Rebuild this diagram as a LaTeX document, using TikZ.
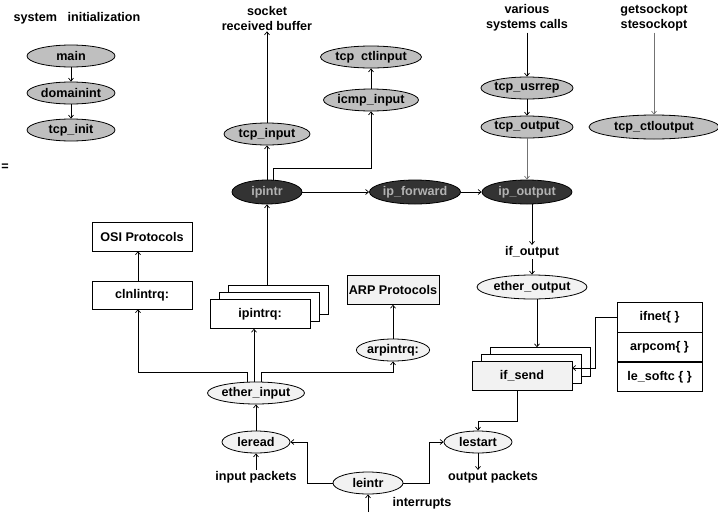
\documentclass[tikz,border=0pt]{standalone}
\usepackage{fontspec}
\setmainfont{Liberation Sans}
\usetikzlibrary{positioning,arrows.meta,shapes.geometric,calc}

\begin{document}
\begin{tikzpicture}[
  x=1pt, y=-1pt,
  every node/.style={font=\fontsize{12.6}{15}\selectfont\bfseries},
  fn/.style={ellipse, draw, line width=0.8pt, inner sep=0pt, minimum height=22pt},
  grayfn/.style={fn, fill=black!25},
  darkfn/.style={fn, fill=black!80, text=black!30, minimum height=24pt},
  lightfn/.style={fn, fill=black!5},
  qblk/.style={rectangle, draw, fill=white, inner sep=0pt,
               minimum width=100pt, minimum height=29pt},
  shadeblk/.style={qblk, fill=black!5},
  ifblk/.style={qblk, minimum width=85pt, minimum height=29.5pt},
  lbl/.style={align=center, inner sep=1pt},
  flowarrow/.style={-{Straight Barb[length=3pt,width=5pt]}, line width=0.7pt},
  greyarrow/.style={flowarrow, black!55}
]
\useasboundingbox (0,0) rectangle (718,512);

% system initialization
\node[lbl]                           (sysinit)  at (77,18)  {system\ \ \ initialization};
\node[grayfn, minimum width=88pt]    (main)     at (71,56)  {main};
\node[grayfn, minimum width=88pt]    (domainint) at (71,93) {domainint};
\node[grayfn, minimum width=88pt]    (tcp_init) at (71,130) {tcp\_init};
\node[lbl]                           (eqmark)   at (5,167)  {=};

% upper protocol layer
\node[lbl]                           (socket)   at (267,18)  {socket\\received buffer};
\node[grayfn, minimum width=86pt]    (tcp_input) at (267,134) {tcp\_input};
\node[grayfn, minimum width=86pt]    (tcp_ctlinput) at (371,57) {tcp\ \ ctlinput};
\node[grayfn, minimum width=86pt]    (icmp_input) at (371,100) {icmp\_input};
\node[lbl]                           (various)  at (527,18)  {various\\systems calls};
\node[grayfn, minimum width=86pt]    (tcp_usrrep) at (527,88) {tcp\_usrrep};
\node[grayfn, minimum width=86pt]    (tcp_output) at (527,127) {tcp\_output};
\node[lbl]                           (getsock)  at (654,18)  {getsockopt\\stesockopt};
\node[grayfn, minimum width=130pt, minimum height=24pt] (tcp_ctloutput) at (654,127) {tcp\_ctloutput};

% ip layer
\node[darkfn, minimum width=70pt]    (ipintr)     at (267,192) {ipintr};
\node[darkfn, minimum width=86pt]    (ip_forward) at (415,192) {ip\_forward};
\node[darkfn, minimum width=90pt]    (ip_output)  at (527,192) {ip\_output};

% queues
\node[qblk]                          (osi)       at (142,236.5) {OSI Protocols};
\node[qblk, minimum height=28pt]     (clnlintrq) at (142,295)  {clnlintrq:};
\node[qblk]                          (ipq3)      at (278,300)  {};
\node[qblk]                          (ipq2)      at (269,307)  {};
\node[qblk]                          (ipintrq)   at (260,314)  {ipintrq:};
\node[shadeblk, minimum width=92pt]  (arp)       at (393,290)  {ARP Protocols};
\node[lightfn, minimum width=70pt]   (arpintrq)  at (393,350)  {arpintrq:};

% output side
\node[lbl]                           (if_output)    at (532,252) {if\_output};
\node[lightfn, minimum width=110pt, minimum height=24pt] (ether_output) at (532,287) {ether\_output};
\node[qblk]                          (sendq3)   at (540,362) {};
\node[qblk]                          (sendq2)   at (531,369) {};
\node[shadeblk]                      (if_send)  at (522,376) {if\_send};
\node[ifblk]                         (ifnet)    at (659.5,317) {ifnet\{ \}};
\node[ifblk, below=0pt of ifnet]     (arpcom)   {arpcom\{ \}};
\node[ifblk, below=0pt of arpcom]    (le_softc) {le\_softc \{ \}};

% driver
\node[lightfn, minimum width=94pt]   (ether_input) at (256,393) {ether\_input};
\node[lightfn, minimum width=68pt]   (leread)   at (256,442) {leread};
\node[lbl]                           (inpkt)    at (256,477) {input packets};
\node[lightfn, minimum width=70pt]   (leintr)   at (368,483) {leintr};
\node[lbl]                           (irqtxt)   at (422,503) {interrupts};
\node[lightfn, minimum width=68pt]   (lestart)  at (478,442) {lestart};
\node[lbl]                           (outpkt)   at (493,477) {output packets};
\coordinate (irqin)    at (368,512);
\coordinate (icmpbend) at (371,168);

\draw[flowarrow] (main) -- (domainint);
\draw[flowarrow] (domainint) -- (tcp_init);

\draw[flowarrow] (tcp_input) -- (socket);
\draw[flowarrow] (ipintr) -- (tcp_input);
\draw[flowarrow] ([xshift=6pt]ipintr.north) |- (icmpbend) -- (icmp_input);
\draw[flowarrow] (icmp_input) -- (tcp_ctlinput);
\draw[flowarrow] (ipintr) -- (ip_forward);
\draw[flowarrow] (ip_forward) -- (ip_output);

\draw[flowarrow] (various) -- (tcp_usrrep);
\draw[flowarrow] (tcp_usrrep) -- (tcp_output);
\draw[greyarrow] (tcp_output) -- (ip_output);
\draw[greyarrow] (getsock) -- (tcp_ctloutput);

\draw[flowarrow] (ip_output.south -| if_output.north) -- (if_output.north);
\draw[flowarrow] (if_output) -- (ether_output);
\draw[flowarrow] ([xshift=5pt]ether_output.south) -- ([xshift=5pt]ether_output.south |- sendq3.north);
\draw[flowarrow] (ifnet.west) -- ++(-21,0) |- ([yshift=8pt]if_send.east);
\draw[flowarrow] ([xshift=-5pt]if_send.south) -- ++(0,31) -| (lestart.north);
\draw[flowarrow] (lestart) -- (lestart |- outpkt.north);

\draw[flowarrow] (irqin) -- (leintr);
\draw[flowarrow] (leintr.west) -- ++(-25,0) |- (leread.east);
\draw[flowarrow] (leintr.east) -- ++(26,0) |- (lestart.west);
\draw[flowarrow] (inpkt) -- (leread);
\draw[flowarrow] (leread) -- (ether_input);

\draw[flowarrow] ([xshift=-9pt]ether_input.north) -- ++(0,-9) -| ([xshift=-4pt]clnlintrq.south);
\draw[flowarrow] ([xshift=-2pt]ether_input.north) -- ([xshift=-2pt]ether_input.north |- ipintrq.south);
\draw[flowarrow] ([xshift=5pt]ether_input.north) -- ++(0,-9) -| (arpintrq.south);
\draw[flowarrow] (arpintrq) -- (arp);
\draw[flowarrow] ([xshift=-4pt]clnlintrq.north) -- ([xshift=-4pt]osi.south);
\draw[flowarrow] (ipintr.south |- ipq3.north) -- (ipintr);

\end{tikzpicture}
\end{document}
